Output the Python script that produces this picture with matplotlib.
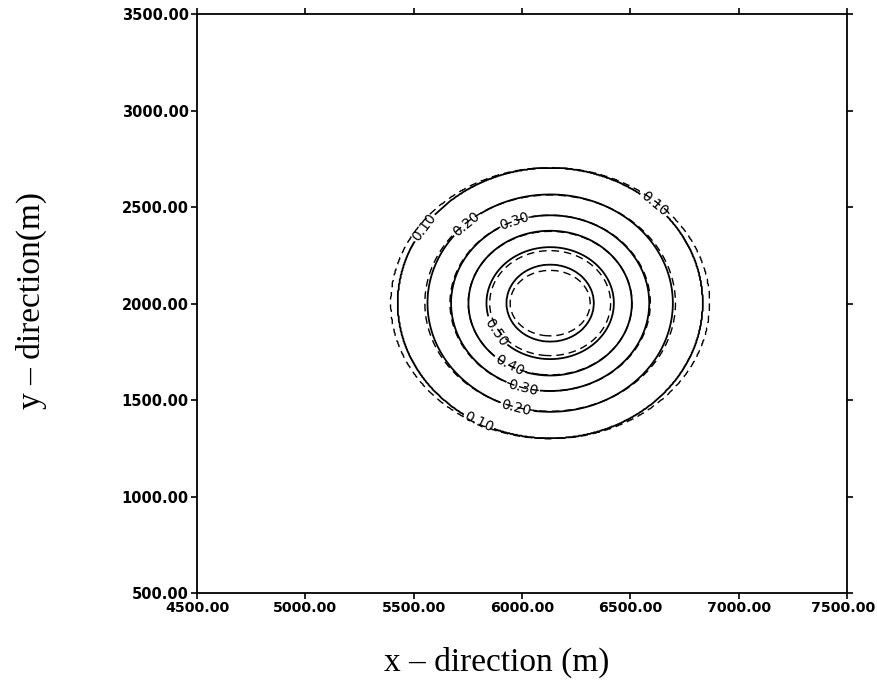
import numpy as np
import matplotlib.pyplot as plt
import matplotlib.transforms as mtransforms

# concentration levels drawn for both solutions
levels = [0.1, 0.2, 0.3, 0.4, 0.5, 0.6]

# radius (m) of each level along x and y, outermost level first
solid_rx = [702, 566, 457, 377, 294, 202]
solid_ry = [699, 563, 455, 375, 290, 200]
dashed_rx = [734, 578, 462, 378, 279, 185]
dashed_ry = [700, 560, 455, 372, 272, 170]
center_x, center_y = 6130, 2002

# which solid contour gets a label, and where on it (degrees from +x)
label_levels = [0.1, 0.2, 0.3, 0.1, 0.5, 0.4, 0.3, 0.2, 0.1]
label_angles = [146, 133, 111, 47, 211, 240, 254, 254, 242]

xticks = [4500, 5000, 5500, 6000, 6500, 7000, 7500]
yticks = [500, 1000, 1500, 2000, 2500, 3000, 3500]


def build_field(rx, ry, X, Y):
    # piecewise-linear field whose level sets are the given ellipses
    dx, dy = X - center_x, Y - center_y
    r = np.hypot(dx, dy)
    th = np.arctan2(dy, dx)
    rad = [a * b / np.hypot(b * np.cos(th), a * np.sin(th)) for a, b in zip(rx, ry)]
    rad = [np.zeros_like(r)] + rad[::-1] + [np.full_like(r, 5000.0)]
    vals = [levels[-1] + 0.1] + levels[::-1] + [0.0]
    Z = np.zeros_like(r)
    for i in range(len(rad) - 1):
        m = (r >= rad[i]) & (r < rad[i + 1])
        t = (r - rad[i]) / (rad[i + 1] - rad[i])
        Z = np.where(m, vals[i] + t * (vals[i + 1] - vals[i]), Z)
    return Z


x = np.linspace(4500, 7500, 700)
y = np.linspace(500, 3500, 700)
X, Y = np.meshgrid(x, y)
Z_solid = build_field(solid_rx, solid_ry, X, Y)
Z_dashed = build_field(dashed_rx, dashed_ry, X, Y)

fig = plt.figure(figsize=(8.77, 6.87), dpi=100)
ax = fig.add_axes([0.2246, 0.1368, 0.7412, 0.8428])

ax.contour(X, Y, Z_dashed, levels=levels, colors='k', linewidths=1.0,
           linestyles=[(0, (5.5, 3.5))])
cs = ax.contour(X, Y, Z_solid, levels=levels, colors='k', linewidths=1.3,
                linestyles='solid')

positions = []
for lev, ang in zip(label_levels, label_angles):
    k = levels.index(lev)
    a = np.radians(ang)
    positions.append((center_x + solid_rx[k] * np.cos(a),
                      center_y + solid_ry[k] * np.sin(a)))
ax.clabel(cs, levels=levels[:5], fmt='%.2f', manual=positions, inline=True,
          inline_spacing=2, fontsize=10)

ax.set_xlim(4500, 7500)
ax.set_ylim(500, 3500)
ax.set_xticks(xticks)
ax.set_yticks(yticks)
ax.set_xticklabels([f'{v:.2f}' for v in xticks], fontweight='bold', fontsize=10.2)
ax.set_yticklabels([f'{v:.2f}' for v in yticks], fontweight='bold', fontsize=10.5)
ax.tick_params(direction='out', length=4, width=1.2, pad=2,
               top=True, right=True)
# keep the last x label inside the figure edge
last = ax.get_xticklabels()[-1]
last.set_transform(last.get_transform() +
                   mtransforms.ScaledTranslation(-3 / 72, 0, fig.dpi_scale_trans))
for s in ax.spines.values():
    s.set_linewidth(1.3)

ax.set_xlabel('x – direction (m)', family='Liberation Serif', fontsize=24)
ax.set_ylabel('y – direction(m)', family='Liberation Serif', fontsize=24)
ax.xaxis.set_label_coords(0.4615, -0.092)
ax.yaxis.set_label_coords(-0.231, 0.506)

fig.savefig('out.png', dpi=100)
